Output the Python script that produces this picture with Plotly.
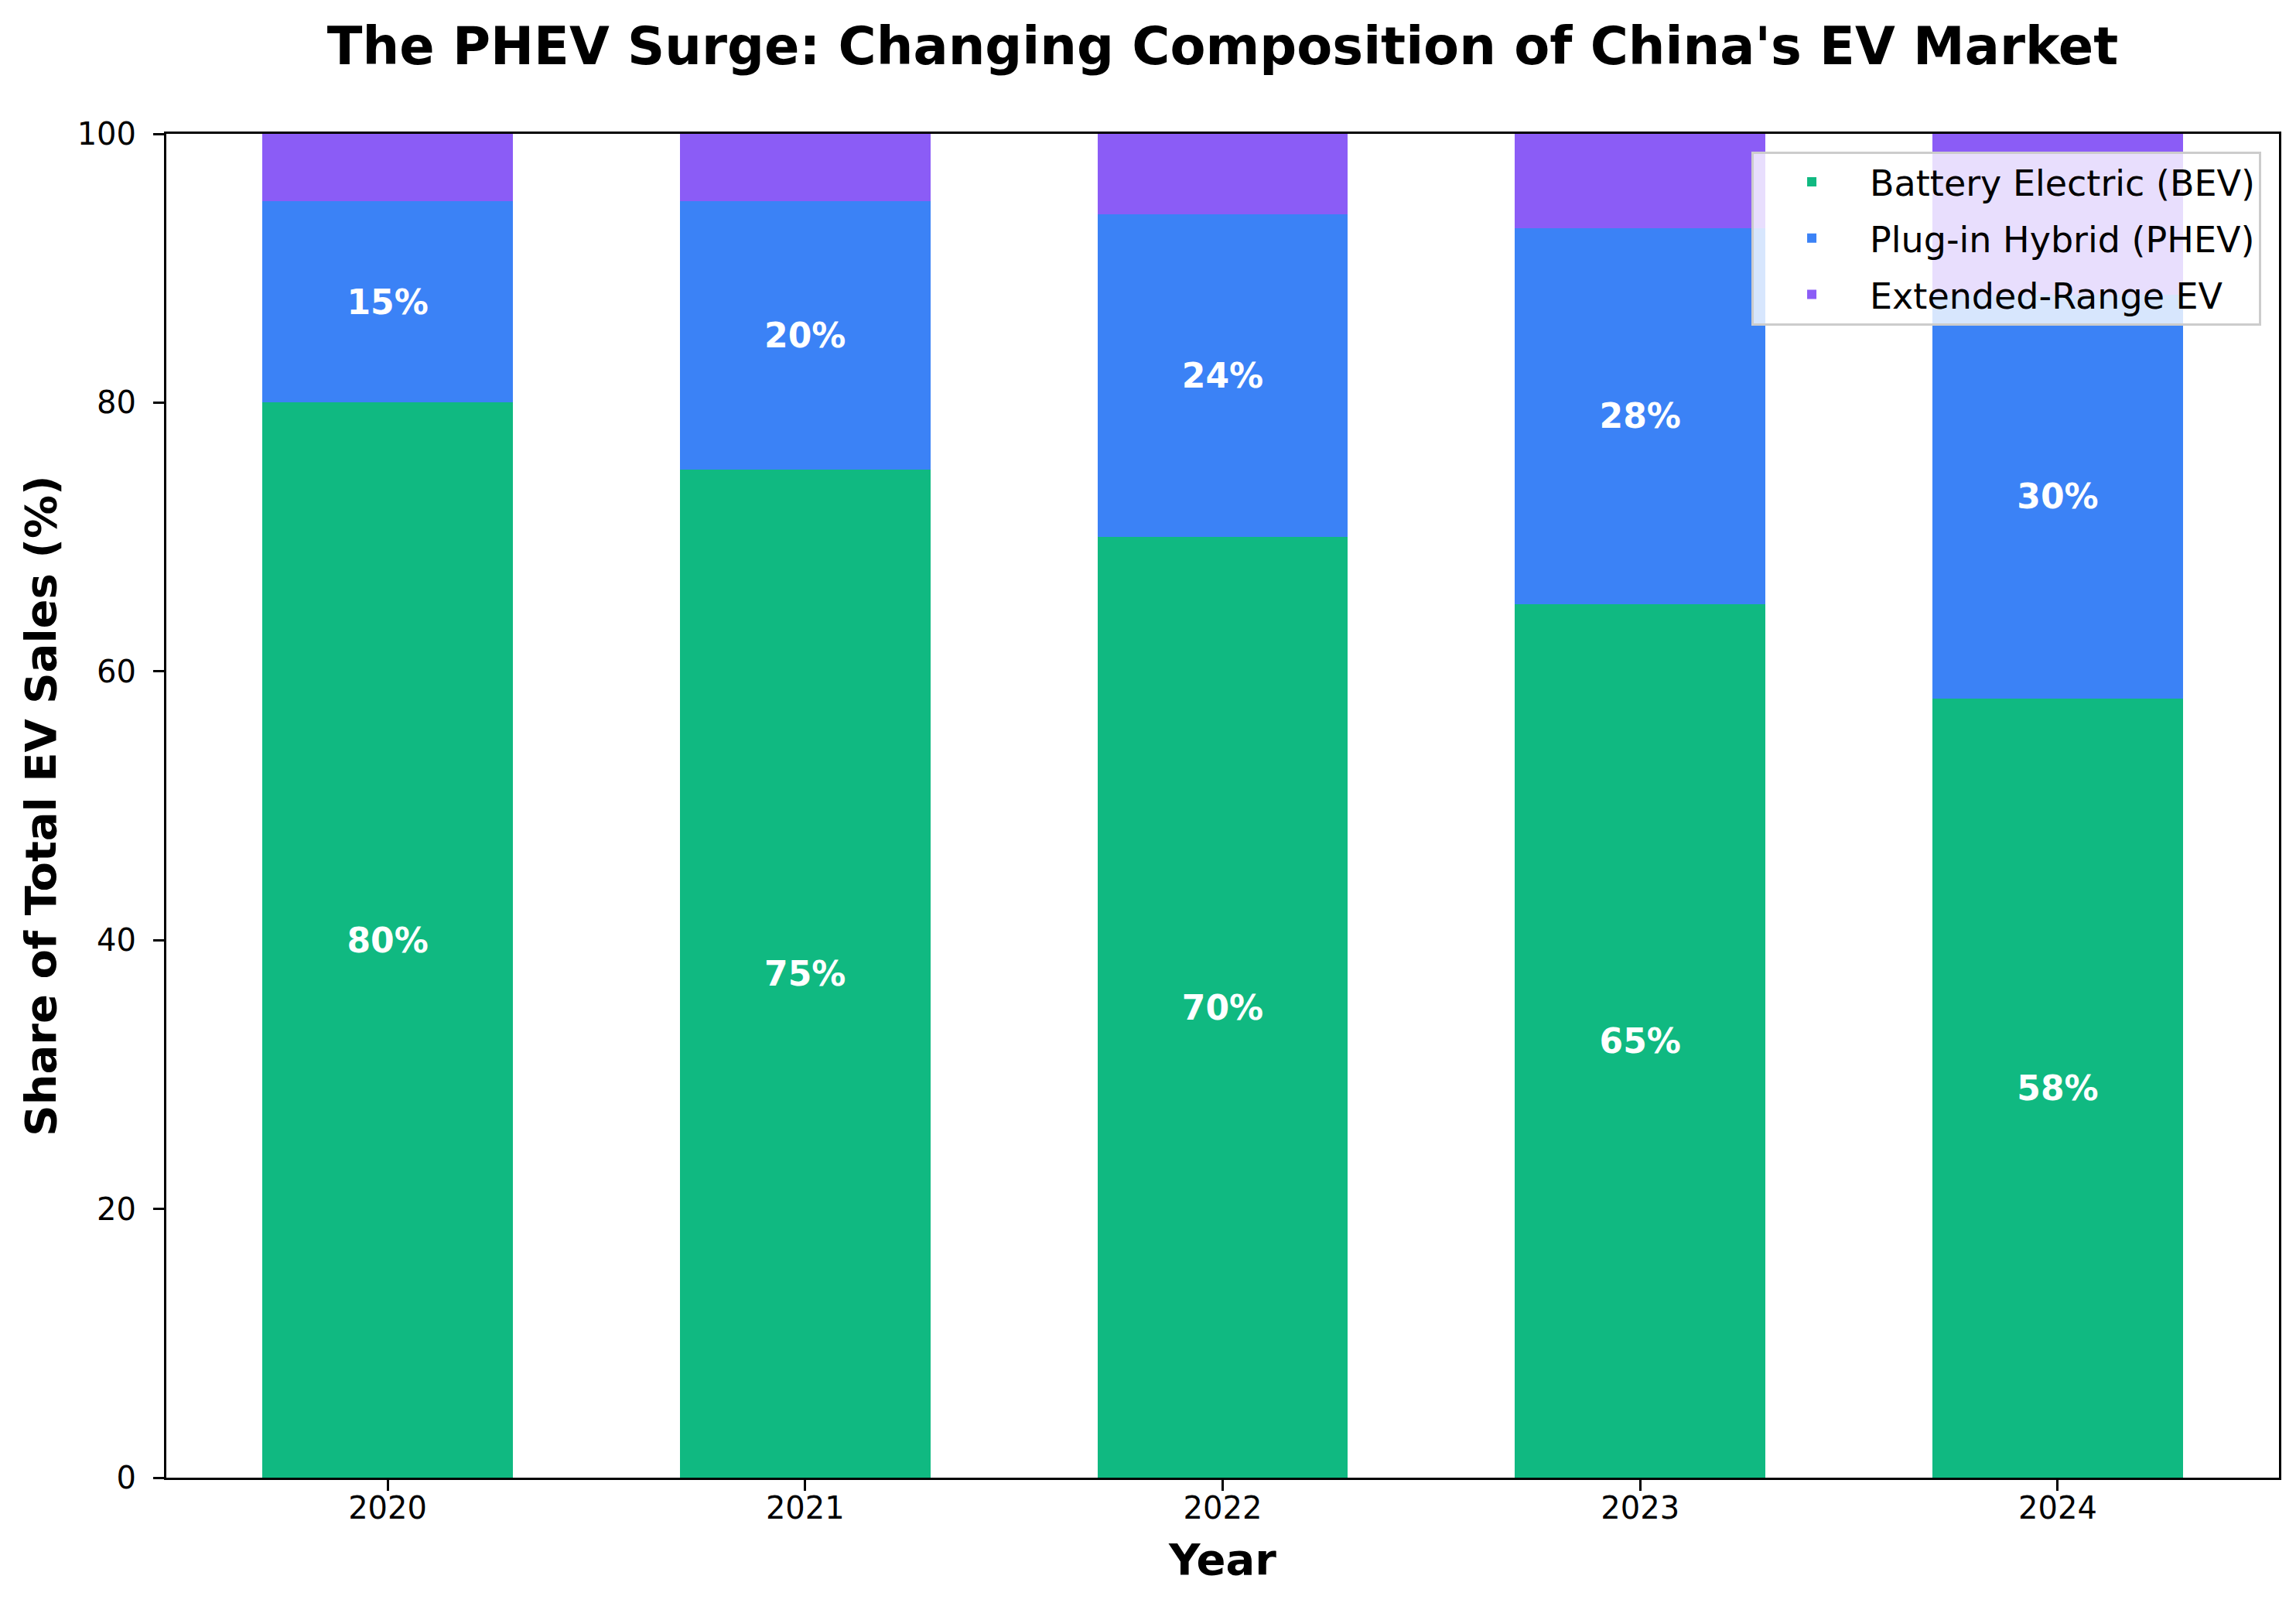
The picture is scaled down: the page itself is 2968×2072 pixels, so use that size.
import plotly.graph_objects as go

years = ["2020", "2021", "2022", "2023", "2024"]
bev = [80, 75, 70, 65, 58]
phev = [15, 20, 24, 28, 30]
erev = [5, 5, 6, 7, 12]

names = ["Battery Electric (BEV)", "Plug-in Hybrid (PHEV)", "Extended-Range EV"]
colors = ["#10b981", "#3b82f6", "#8b5cf6"]

FONT = "DejaVu Sans"
xpos = list(range(len(years)))

fig = go.Figure()
series = [bev, phev, erev]
for i, (vals, name, col) in enumerate(zip(series, names, colors)):
    show_text = i < 2
    fig.add_trace(go.Bar(
        x=xpos, y=vals, name=name, width=0.6,
        legendgroup=f"g{i}",
        marker=dict(color=col, line=dict(width=0)),
        text=[f"{v}%" for v in vals] if show_text else None,
        textposition="inside" if show_text else "none",
        insidetextanchor="middle",
        textangle=0,
        constraintext="none",
        textfont=dict(family=FONT, size=44, color="white", weight="bold"),
        hoverinfo="skip",
    ))

fig.update_layout(
    barmode="stack",
    width=2968, height=2072,
    paper_bgcolor="white", plot_bgcolor="white",
    margin=dict(l=207, r=30, t=165, b=170, autoexpand=False),
    font=dict(family=FONT, size=40, color="black"),
    title=dict(
        text="<b>The PHEV Surge: Changing Composition of China's EV Market</b>",
        font=dict(family=FONT, size=67, color="black"),
        x=(207 + 2938) / 2 / 2968, xanchor="center",
        y=1 - 52 / 2072, yanchor="middle",
    ),
    legend=dict(
        x=0.9916, xanchor="right", y=0.987, yanchor="top",
        bgcolor="rgba(255,255,255,0.8)", bordercolor="#cccccc", borderwidth=3,
        font=dict(family=FONT, size=46, color="black"),
        traceorder="grouped", itemwidth=140, tracegroupgap=10,
    ),
)

fig.update_xaxes(
    range=[-0.53, 4.53],
    tickmode="array", tickvals=xpos, ticktext=years,
    showline=True, mirror=True, linecolor="black", linewidth=3,
    ticks="outside", ticklen=14, tickwidth=3, tickcolor="black",
    showgrid=False, zeroline=False,
    tickfont=dict(family=FONT, size=40, color="black"),
    ticklabelstandoff=-12,
    title=dict(text="<b>Year</b>", font=dict(family=FONT, size=56, color="black"), standoff=25),
)
fig.update_yaxes(
    range=[0, 100], tickmode="array", tickvals=[0, 20, 40, 60, 80, 100],
    showline=True, mirror=True, linecolor="black", linewidth=3,
    ticks="outside", ticklen=14, tickwidth=3, tickcolor="black",
    showgrid=False, zeroline=False,
    tickfont=dict(family=FONT, size=40, color="black"),
    ticklabelstandoff=14,
    title=dict(text="<b>Share of Total EV Sales (%)</b>", font=dict(family=FONT, size=56, color="black"), standoff=10),
)

fig.write_html("out.html")
